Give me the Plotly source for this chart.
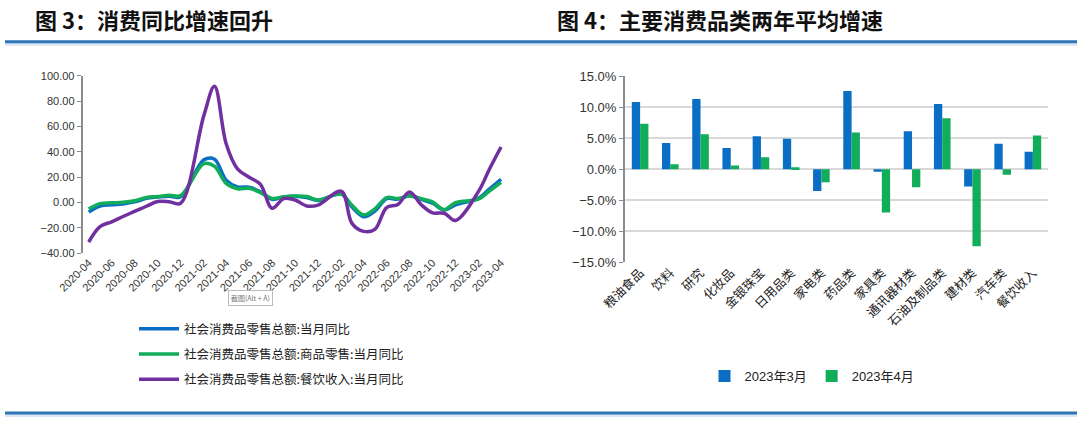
import plotly.graph_objects as go

# ---- left chart: monthly YoY growth (January merged into Feb, so skipped) ----
months = [
    "2020-04", "2020-05", "2020-06", "2020-07", "2020-08", "2020-09", "2020-10", "2020-11", "2020-12",
    "2021-02", "2021-03", "2021-04", "2021-05", "2021-06", "2021-07", "2021-08", "2021-09", "2021-10",
    "2021-11", "2021-12",
    "2022-02", "2022-03", "2022-04", "2022-05", "2022-06", "2022-07", "2022-08", "2022-09", "2022-10",
    "2022-11", "2022-12",
    "2023-02", "2023-03", "2023-04",
]
retail_total = [-7.5, -2.8, -1.8, -1.1, 0.5, 3.3, 4.3, 5.0, 4.6,
                33.8, 34.2, 17.7, 12.4, 12.1, 8.5, 2.5, 4.4, 4.9, 3.9, 1.7,
                6.7, -3.5, -11.1, -6.7, 3.1, 2.7, 5.4, 2.5, -0.5, -5.9, -1.8,
                3.5, 10.6, 18.4]
retail_goods = [-5.0, -0.8, -0.2, 0.2, 1.4, 4.0, 4.7, 5.8, 5.5,
                30.7, 28.6, 15.1, 10.9, 11.2, 7.9, 3.3, 4.5, 5.2, 4.8, 2.1,
                6.5, -2.1, -9.7, -5.0, 3.9, 3.2, 5.1, 3.0, 0.5, -5.6, -0.1,
                2.9, 9.1, 15.9]
retail_catering = [-31.1, -18.9, -15.2, -11.0, -7.0, -2.9, 0.8, 0.6, -0.6,
                   68.9, 91.6, 46.4, 26.6, 20.0, 14.3, -4.5, 3.1, 2.0, -2.7, -2.0,
                   8.9, -16.4, -22.7, -21.1, -4.0, -1.5, 8.4, -1.7, -8.1, -8.4, -14.1,
                   9.2, 26.3, 43.8]
line_names = [
    "社会消费品零售总额:当月同比",
    "社会消费品零售总额:商品零售:当月同比",
    "社会消费品零售总额:餐饮收入:当月同比",
]

# ---- right chart: two-year average growth by category ----
categories = ["粮油食品", "饮料", "研究", "化妆品", "金银珠宝", "日用品类", "家电类",
              "药品类", "家具类", "通讯器材类", "石油及制品类", "建材类", "汽车类", "餐饮收入"]
mar_2023 = [10.8, 4.2, 11.3, 3.4, 5.3, 4.9, -3.5, 12.6, -0.4, 6.1, 10.5, -2.8, 4.1, 2.8]
apr_2023 = [7.3, 0.8, 5.6, 0.6, 1.9, 0.3, -2.1, 5.9, -7.0, -2.9, 8.2, -12.4, -0.9, 5.4]
bar_names = ["2023年3月", "2023年4月"]

BLUE = "#0A6EC4"
GREEN = "#12AD5A"
PURPLE = "#7030A0"
AXIS_GRAY = "#8C8C8C"
W, H = 1080, 434


def px_x(v):
    return v / W


def px_y(v):
    return 1 - v / H


left_x = [px_x(82.7), px_x(506.7)]
left_y = [px_y(253.3), px_y(75.7)]
right_x = [px_x(625), px_x(1048)]
right_y = [px_y(262.3), px_y(76)]
left_yr = [-40, 100]
right_yr = [-15, 15]
left_xr = ["2020-03-16", "2023-04-16"]

fig = go.Figure()

for name, vals, col in zip(line_names, [retail_total, retail_goods, retail_catering], [BLUE, GREEN, PURPLE]):
    fig.add_trace(go.Scatter(
        x=months, y=vals, name=name, mode="lines",
        line=dict(color=col, width=3.5, shape="spline", smoothing=1.0),
        xaxis="x", yaxis="y", legend="legend", legendgroup=name,
    ))

for name, vals, col in zip(bar_names, [mar_2023, apr_2023], [BLUE, GREEN]):
    fig.add_trace(go.Bar(
        x=categories, y=vals, name=name, marker=dict(color=col, line=dict(width=0)),
        xaxis="x3", yaxis="y3", legend="legend2",
    ))

zero_left = left_y[0] + (0 - left_yr[0]) / (left_yr[1] - left_yr[0]) * (left_y[1] - left_y[0])
zero_right = right_y[0] + (0 - right_yr[0]) / (right_yr[1] - right_yr[0]) * (right_y[1] - right_y[0])

tick_font = dict(family="Liberation Sans, Arial, sans-serif", size=11, color="#333333")
cjk_font = "Noto Sans CJK SC, sans-serif"

fig.update_layout(
    width=W, height=H, autosize=False,
    margin=dict(l=0, r=0, t=0, b=0, pad=0, autoexpand=False),
    paper_bgcolor="white", plot_bgcolor="white",
    barmode="group", bargap=0.45, bargroupgap=0,
    xaxis=dict(domain=left_x, anchor="y", type="date", range=left_xr, automargin=False,
               tick0="2020-04-01", dtick="M2", tickformat="%Y-%m", tickangle=-45,
               showline=False, ticks="", showgrid=False, zeroline=False, tickfont=tick_font),
    xaxis2=dict(domain=left_x, overlaying="x", anchor="free", position=zero_left, type="date",
                range=left_xr, tick0=left_xr[0], dtick="M2", showticklabels=False, automargin=False,
                showline=True, linecolor=AXIS_GRAY, linewidth=2, ticks="outside", ticklen=4,
                tickcolor=AXIS_GRAY, tickwidth=1.5, showgrid=False, zeroline=False),
    yaxis=dict(domain=left_y, anchor="x", range=left_yr, dtick=20, tickformat=".2f", automargin=False,
               showline=True, linecolor=AXIS_GRAY, linewidth=2, ticks="outside", ticklen=4,
               tickcolor=AXIS_GRAY, showgrid=False, zeroline=False, tickfont=tick_font),
    xaxis3=dict(domain=right_x, anchor="y3", type="category", range=[-0.5, len(categories) - 0.5],
                tickangle=-45, showline=False, ticks="", showgrid=False, zeroline=False, automargin=False,
                tickfont=dict(family=cjk_font, size=12.5, color="#222222")),
    xaxis4=dict(domain=right_x, overlaying="x3", anchor="free", position=zero_right,
                range=[-0.5, len(categories) - 0.5], automargin=False,
                tickvals=[i - 0.5 for i in range(len(categories) + 1)], showticklabels=False,
                showline=True, linecolor=AXIS_GRAY, linewidth=2, ticks="outside", ticklen=4,
                tickcolor=AXIS_GRAY, tickwidth=1.5, showgrid=False, zeroline=False),
    yaxis3=dict(domain=right_y, anchor="x3", range=right_yr, dtick=5, tickformat=".1f", ticksuffix="%",
                showline=True, linecolor=AXIS_GRAY, linewidth=2, ticks="outside", ticklen=4,
                tickcolor=AXIS_GRAY, showgrid=True, gridcolor="#D9D9D9", gridwidth=1.5, automargin=False,
                zeroline=False, tickfont=dict(family="Liberation Sans, Arial, sans-serif", size=13,
                                              color="#333333")),
    legend=dict(x=px_x(134), y=px_y(314), xanchor="left", yanchor="top", orientation="v",
                traceorder="grouped", tracegroupgap=6, itemwidth=40, bgcolor="rgba(0,0,0,0)",
                font=dict(family=cjk_font, size=12.5, color="#222222")),
    legend2=dict(x=px_x(812), y=px_y(376), xanchor="center", yanchor="middle", orientation="h",
                 bgcolor="rgba(0,0,0,0)", itemwidth=30,
                 font=dict(family="Liberation Sans, " + cjk_font, size=13, color="#222222")),
    showlegend=True,
)

# section titles
title_font = dict(family=cjk_font, size=22, color="#111111", weight="bold")
fig.add_annotation(text="图 3：消费同比增速回升", x=px_x(33), y=px_y(19), xref="paper", yref="paper",
                   xanchor="left", yanchor="middle", showarrow=False, font=title_font)
fig.add_annotation(text="图 4：主要消费品类两年平均增速", x=px_x(555), y=px_y(19), xref="paper", yref="paper",
                   xanchor="left", yanchor="middle", showarrow=False, font=title_font)
# screenshot tooltip left in the source image
fig.add_annotation(text="截图(Alt + A)", x=px_x(228), y=px_y(306), xref="paper", yref="paper",
                   showarrow=False, font=dict(family=cjk_font, size=7, color="#777777"),
                   bordercolor="#BBBBBB", borderwidth=1, borderpad=2, bgcolor="white")

# blue rules above and below the charts
for yy in (41.7, 413):
    fig.add_shape(type="line", xref="paper", yref="paper", x0=px_x(5), x1=px_x(1077),
                  y0=px_y(yy + 2.5), y1=px_y(yy + 2.5), line=dict(color="rgba(46,117,182,0.18)", width=3))
    fig.add_shape(type="line", xref="paper", yref="paper", x0=px_x(5), x1=px_x(1077),
                  y0=px_y(yy), y1=px_y(yy), line=dict(color="#2E75B6", width=3))

# the page body has a default 8px margin; drop it so the figure sits at the window corner
fig.write_html("out.html", config={"displayModeBar": False},
               post_script="document.body.style.margin='0';")
